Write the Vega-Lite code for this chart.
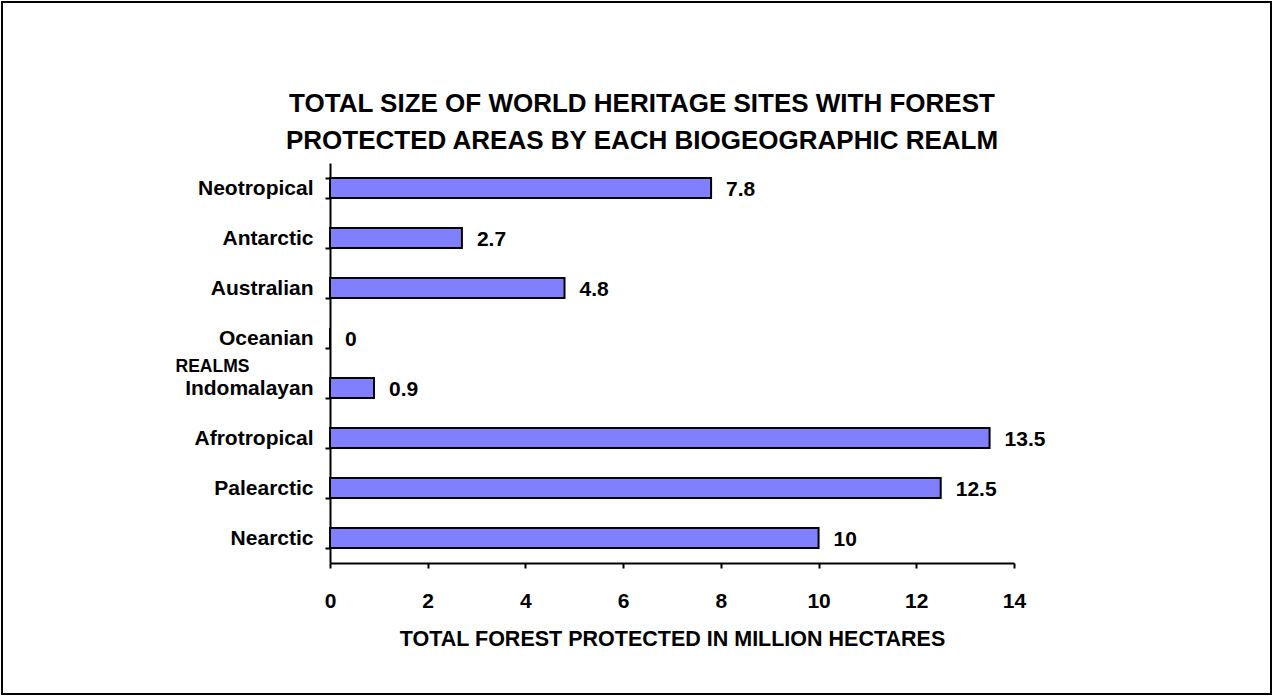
{
  "$schema": "https://vega.github.io/schema/vega-lite/v6.json",
  "width": 684,
  "height": 400,
  "autosize": {"type": "none"},
  "padding": {"left": 330, "top": 163, "right": 260, "bottom": 134},
  "background": "white",
  "title": {
    "text": ["TOTAL SIZE OF WORLD HERITAGE SITES WITH FOREST", "PROTECTED AREAS BY EACH BIOGEOGRAPHIC REALM"],
    "font": "Liberation Sans",
    "fontSize": 26,
    "fontWeight": "bold",
    "color": "black",
    "anchor": "middle",
    "dx": -30,
    "offset": -153,
    "lineHeight": 37
  },
  "config": {
    "view": {"stroke": null},
    "font": "Liberation Sans"
  },
  "data": {
    "values": [
      {"realm": "Neotropical", "value": 7.8},
      {"realm": "Antarctic", "value": 2.7},
      {"realm": "Australian", "value": 4.8},
      {"realm": "Oceanian", "value": 0},
      {"realm": "Indomalayan", "value": 0.9},
      {"realm": "Afrotropical", "value": 13.5},
      {"realm": "Palearctic", "value": 12.5},
      {"realm": "Nearctic", "value": 10}
    ]
  },
  "encoding": {
    "y": {
      "field": "realm",
      "type": "nominal",
      "sort": null,
      "scale": {"paddingInner": 0.6, "paddingOuter": 0.3},
      "axis": {
        "title": "REALMS",
        "titleAngle": 0,
        "titleX": -118,
        "titleY": 203,
        "titleAlign": "center",
        "titleBaseline": "middle",
        "titleFont": "Liberation Sans",
        "titleFontSize": 17.5,
        "titleFontWeight": "bold",
        "titleColor": "black",
        "labelFont": "Liberation Sans",
        "labelFontSize": 21,
        "labelFontWeight": "bold",
        "labelColor": "black",
        "labelPadding": 12,
        "tickBand": "extent",
        "tickSize": 5,
        "tickColor": "black",
        "tickWidth": 2,
        "domainColor": "black",
        "domainWidth": 2
      }
    },
    "x": {
      "field": "value",
      "type": "quantitative",
      "scale": {"domain": [0, 14], "nice": false},
      "axis": {
        "title": "TOTAL FOREST PROTECTED IN MILLION HECTARES",
        "values": [0, 2, 4, 6, 8, 10, 12, 14],
        "grid": false,
        "titleFont": "Liberation Sans",
        "titleFontSize": 21.5,
        "titleFontWeight": "bold",
        "titleColor": "black",
        "titlePadding": 17,
        "labelFont": "Liberation Sans",
        "labelFontSize": 21,
        "labelFontWeight": "bold",
        "labelColor": "black",
        "labelPadding": 22,
        "labelFlush": false,
        "tickSize": 5,
        "tickColor": "black",
        "tickWidth": 2,
        "domainColor": "black",
        "domainWidth": 2
      }
    }
  },
  "layer": [
    {
      "mark": {"type": "bar", "color": "#8080FF", "stroke": "black", "strokeWidth": 2}
    },
    {
      "mark": {"type": "text", "align": "left", "baseline": "middle", "dx": 15, "dy": 2, "font": "Liberation Sans", "fontSize": 21, "fontWeight": "bold", "color": "black"},
      "encoding": {"text": {"field": "value", "type": "quantitative"}}
    },
    {
      "data": {"values": [{"frame": 1}]},
      "mark": {"type": "rect", "fill": null, "stroke": "black", "strokeWidth": 2, "clip": false},
      "encoding": {
        "x": {"value": -328},
        "x2": {"value": 941},
        "y": {"value": -161},
        "y2": {"value": 531}
      }
    }
  ]
}
